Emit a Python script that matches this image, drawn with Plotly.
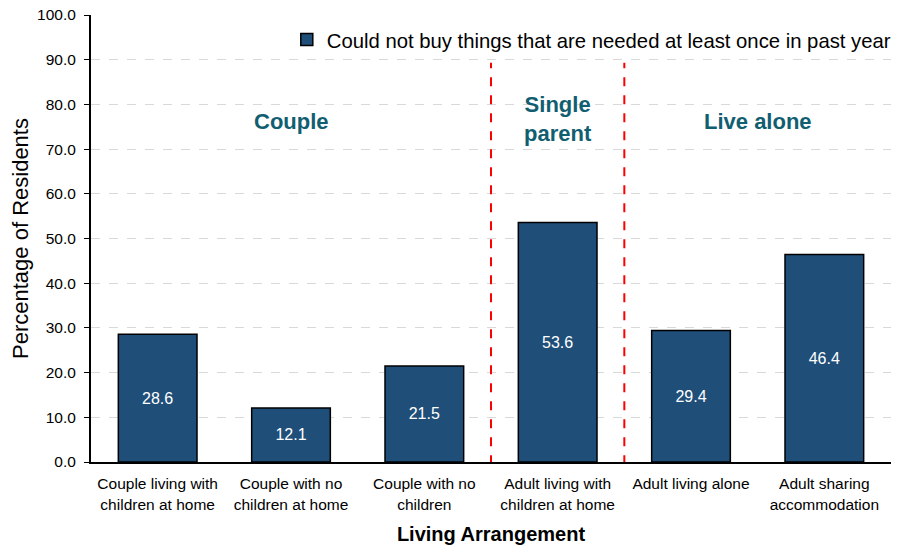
import plotly.graph_objects as go

categories = [
    "Couple living with<br>children at home",
    "Couple with no<br>children at home",
    "Couple with no<br>children",
    "Adult living with<br>children at home",
    "Adult living alone",
    "Adult sharing<br>accommodation",
]
values = [28.6, 12.1, 21.5, 53.6, 29.4, 46.4]
series_name = "Could not buy things that are needed at least once in past year"
group_labels = ["Couple", "Single<br>parent", "Live alone"]
group_centers = [1, 3, 4.5]
group_label_y = [76.1, 76.7, 76.1]
divider_positions = [2.5, 3.5]
y_ticks = [0, 10, 20, 30, 40, 50, 60, 70, 80, 90, 100]

FONT = "Liberation Sans, Arial, sans-serif"
BAR_COLOR = "#1F4E79"
TEAL = "#115E71"

fig = go.Figure()
fig.add_trace(go.Bar(
    x=categories,
    y=values,
    name=series_name,
    marker=dict(color=BAR_COLOR, line=dict(color="black", width=1.5)),
    texttemplate="%{y:.1f}",
    textposition="inside",
    insidetextanchor="middle",
    textfont=dict(color="white", size=16, family=FONT),
    showlegend=True,
))

shapes = []
for xp in divider_positions:
    shapes.append(dict(type="line", xref="x", yref="y", x0=xp, x1=xp, y0=-0.5, y1=89.3,
                       line=dict(color="red", width=2, dash="dash")))

annotations = []
for lab, xc, yc in zip(group_labels, group_centers, group_label_y):
    annotations.append(dict(x=xc, y=yc, xref="x", yref="y", text="<b>" + lab + "</b>",
                            showarrow=False, font=dict(size=22, color=TEAL, family=FONT),
                            xanchor="center", yanchor="middle"))

# the page body has an 8px default margin, so the figure is 8px smaller
fig.update_layout(
    width=896, height=539,
    margin=dict(l=83, r=13, t=7, b=85),
    paper_bgcolor="white", plot_bgcolor="white",
    font=dict(family=FONT, color="black", size=15),
    bargap=0.41,
    shapes=shapes,
    annotations=annotations,
    legend=dict(x=1.006, xanchor="right", y=0.989, yanchor="top",
                font=dict(size=20.3, family=FONT, color="black"),
                bgcolor="rgba(0,0,0,0)", itemwidth=30),
    hovermode=False,
)
fig.update_xaxes(
    automargin=False,
    showline=True, linecolor="black", linewidth=1.5,
    ticks="", ticklabelstandoff=7, tickfont=dict(size=15.5, family=FONT),
    title=dict(text="<b>Living Arrangement</b>", font=dict(size=20, family=FONT)),
    showgrid=False,
)
fig.update_yaxes(
    automargin=False,
    range=[0, 100], tickvals=y_ticks, tickformat=".1f",
    showline=True, linecolor="black", linewidth=2,
    ticks="outside", ticklen=5, tickcolor="black", ticklabelstandoff=5,
    ticklabeloverflow="allow",
    tickfont=dict(size=15.5, family=FONT),
    showgrid=True, gridcolor="#D9D9D9", griddash="dash", gridwidth=1,
    zeroline=False,
    title=dict(text="Percentage of Residents", font=dict(size=22, family=FONT), standoff=6),
)

fig.write_html("out.html")
